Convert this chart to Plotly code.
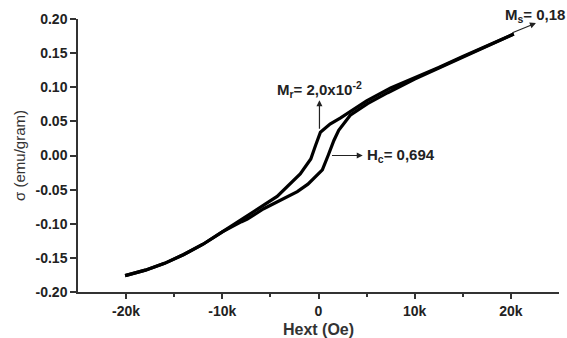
import plotly.graph_objects as go

# Descending (upper) branch, H in Oe
h_down = [20300, 17500, 15000, 12500, 10000, 7500, 5000, 3500, 2300, 1200, 200, -300,
          -800, -1900, -2600, -4300, -5500, -7100, -8000, -10000, -12000, -14000,
          -16000, -18000, -20100]
s_down = [0.178, 0.161, 0.145, 0.129, 0.114, 0.099, 0.080, 0.066, 0.055, 0.046, 0.034,
          0.015, -0.005, -0.027, -0.037, -0.060, -0.071, -0.086, -0.094, -0.112,
          -0.130, -0.145, -0.158, -0.168, -0.176]

# Ascending (lower) branch
h_up = [-20100, -18000, -16000, -14000, -12000, -10000, -8000, -7400, -5700, -3600,
        -2200, -1100, -100, 400, 1000, 1600, 2100, 3300, 5100, 7200, 10000, 12500,
        15000, 17500, 20300]
s_up = [-0.176, -0.168, -0.158, -0.145, -0.130, -0.112, -0.097, -0.093, -0.078, -0.063,
        -0.053, -0.042, -0.028, -0.021, 0.0, 0.022, 0.037, 0.059, 0.076, 0.092, 0.112,
        0.128, 0.144, 0.161, 0.178]

x_tickvals = [-20000, -10000, 0, 10000, 20000]
x_ticktext = ["-20k", "-10k", "0", "10k", "20k"]
y_tickvals = [-0.20, -0.15, -0.10, -0.05, 0.00, 0.05, 0.10, 0.15, 0.20]
y_ticktext = ["-0.20", "-0.15", "-0.10", "-0.05", "0.00", "0.05", "0.10", "0.15", "0.20"]

FONT = "Liberation Sans, Arial, sans-serif"

fig = go.Figure()
fig.add_trace(go.Scatter(x=h_down, y=s_down, mode="lines",
                         line=dict(color="black", width=3.2), showlegend=False))
fig.add_trace(go.Scatter(x=h_up, y=s_up, mode="lines",
                         line=dict(color="black", width=3.2), showlegend=False))

fig.update_layout(
    width=567, height=338,
    margin=dict(l=78, r=8, t=19, b=46, autoexpand=False),
    paper_bgcolor="white", plot_bgcolor="white",
    xaxis=dict(range=[-25000, 25000], showgrid=False, zeroline=False, automargin=False,
               showline=True, linecolor="#333", linewidth=1.5,
               ticks="outside", ticklen=5, tickwidth=1.5, tickcolor="#333",
               tickvals=x_tickvals, ticktext=x_ticktext,
               tickfont=dict(family=FONT, size=14, color="#222", weight="bold"),
               minor=dict(ticks="outside", ticklen=3, tickwidth=1.5, tickcolor="#333",
                          tickvals=[-15000, -5000, 5000, 15000], showgrid=False),
               title=dict(text="<b>Hext (Oe)</b>", font=dict(family=FONT, size=16, color="#333"),
                          standoff=7)),
    yaxis=dict(range=[-0.2, 0.2], showgrid=False, zeroline=False, automargin=False,
               showline=True, linecolor="#333", linewidth=1.5,
               ticks="outside", ticklen=6, tickwidth=1.5, tickcolor="#333",
               tickvals=y_tickvals, ticktext=y_ticktext,
               tickfont=dict(family=FONT, size=14, color="#222", weight="bold"),
               title=dict(text="σ (emu/gram)", font=dict(family=FONT, size=15, color="#333"),
                          standoff=6)),
)

ann_font = dict(family=FONT, size=15, color="#222")

# Mr arrow and label
fig.add_annotation(x=100, y=0.081, ax=100, ay=0.037, axref="x", ayref="y",
                   xref="x", yref="y", showarrow=True, arrowhead=2, arrowsize=1,
                   arrowwidth=1.2, arrowcolor="#222", text="")
fig.add_annotation(x=-4500, y=0.096, xref="x", yref="y", xanchor="left", yanchor="middle",
                   text="<b>M<sub>r</sub>= 2,0x10<sup>-2</sup></b>", showarrow=False, font=ann_font)

# Hc arrow and label
fig.add_annotation(x=4600, y=0.0, ax=1250, ay=0.0, axref="x", ayref="y",
                   xref="x", yref="y", showarrow=True, arrowhead=2, arrowsize=1,
                   arrowwidth=1.2, arrowcolor="#222", text="")
fig.add_annotation(x=4800, y=0.0, xref="x", yref="y", xanchor="left", yanchor="middle",
                   text="<b>H<sub>c</sub>= 0,694</b>", showarrow=False, font=ann_font)

# Ms arrow and label
fig.add_annotation(x=22600, y=0.194, ax=20000, ay=0.179, axref="x", ayref="y",
                   xref="x", yref="y", showarrow=True, arrowhead=2, arrowsize=1,
                   arrowwidth=1.2, arrowcolor="#222", text="")
fig.add_annotation(x=19200, y=1.012, xref="x", yref="paper", xanchor="left", yanchor="middle",
                   text="<b>M<sub>s</sub>= 0,18</b>", showarrow=False, font=ann_font)

fig.write_html("out.html")
